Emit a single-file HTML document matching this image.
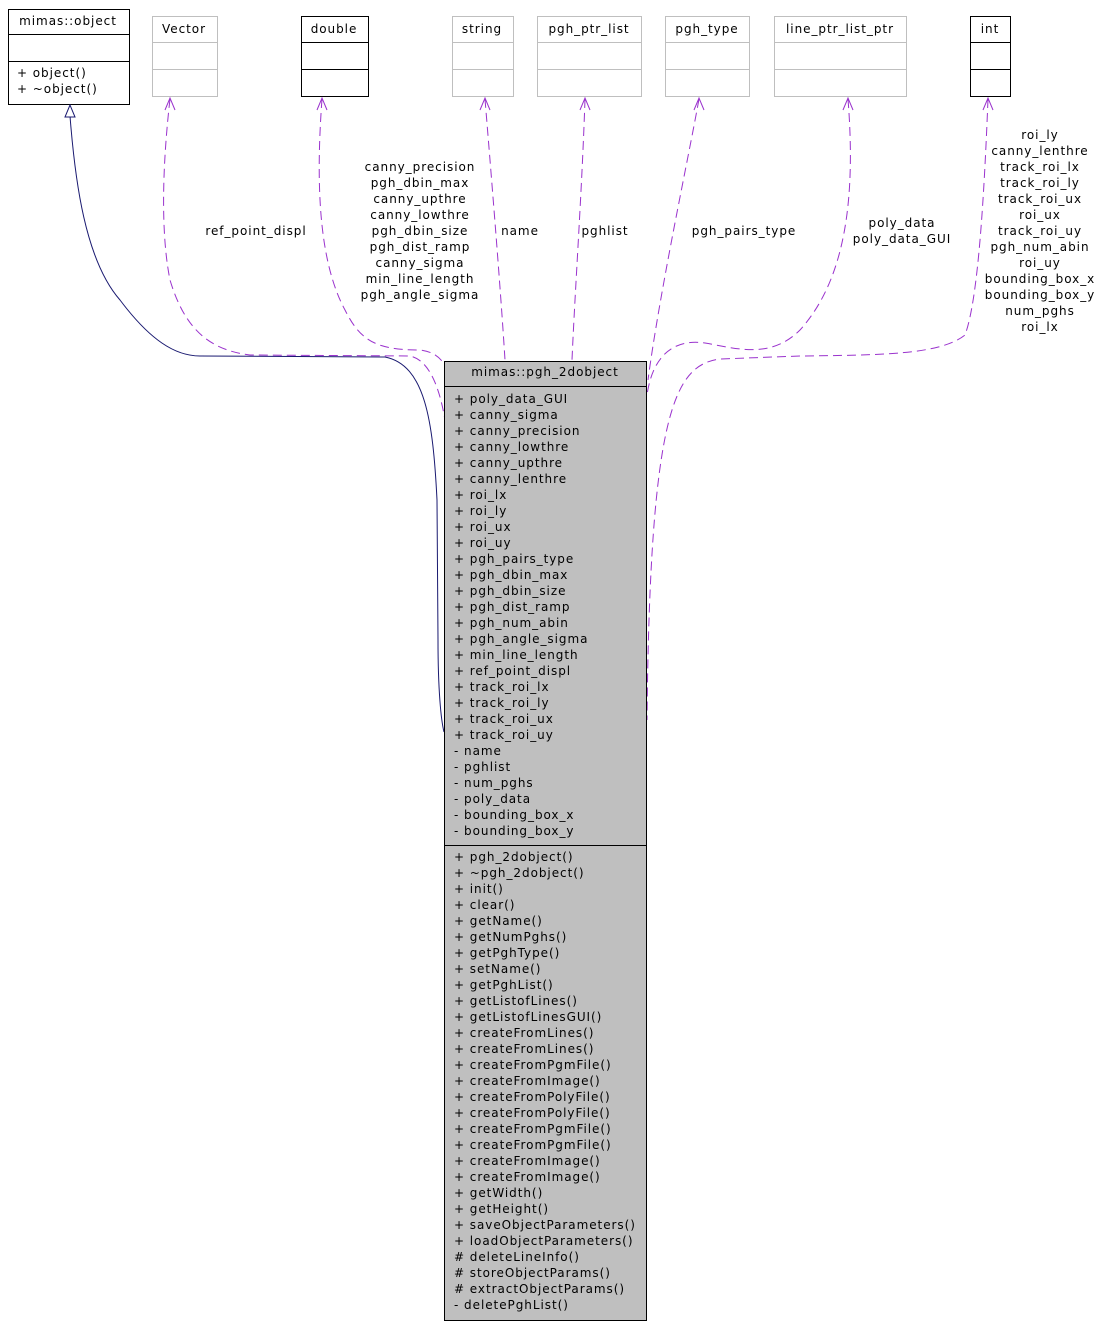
<!DOCTYPE html>
<html><head><meta charset="utf-8"><style>
html,body{margin:0;padding:0;background:#fff;}
svg text{font-family:"DejaVu Sans","Liberation Sans",sans-serif;font-size:12px;fill:#000;letter-spacing:0.95px;}
</style></head><body>
<svg width="1111" height="1327" viewBox="0 0 1111 1327" xmlns="http://www.w3.org/2000/svg">
<!-- mimas::object -->
<rect x="8.5" y="9.5" width="121" height="95" fill="#fff" stroke="#000"/>
<line x1="8" y1="34.5" x2="130" y2="34.5" stroke="#000"/>
<line x1="8" y1="61.5" x2="130" y2="61.5" stroke="#000"/>
<text x="68" y="25" text-anchor="middle">mimas::object</text>
<text x="17" y="77">+ object()</text>
<text x="17" y="93">+ ~object()</text>
<!-- gray boxes -->
<g fill="#fff" stroke="#bfbfbf">
<rect x="152.5" y="16.5" width="65" height="80"/><line x1="152" y1="42.5" x2="218" y2="42.5"/><line x1="152" y1="69.5" x2="218" y2="69.5"/>
<rect x="452.5" y="16.5" width="61" height="80"/><line x1="452" y1="42.5" x2="514" y2="42.5"/><line x1="452" y1="69.5" x2="514" y2="69.5"/>
<rect x="537.5" y="16.5" width="104" height="80"/><line x1="537" y1="42.5" x2="642" y2="42.5"/><line x1="537" y1="69.5" x2="642" y2="69.5"/>
<rect x="665.5" y="16.5" width="84" height="80"/><line x1="665" y1="42.5" x2="750" y2="42.5"/><line x1="665" y1="69.5" x2="750" y2="69.5"/>
<rect x="774.5" y="16.5" width="132" height="80"/><line x1="774" y1="42.5" x2="907" y2="42.5"/><line x1="774" y1="69.5" x2="907" y2="69.5"/>
</g>
<g fill="#fff" stroke="#000">
<rect x="301.5" y="16.5" width="67" height="80"/><line x1="301" y1="42.5" x2="369" y2="42.5"/><line x1="301" y1="69.5" x2="369" y2="69.5"/>
<rect x="970.5" y="16.5" width="40" height="80"/><line x1="970" y1="42.5" x2="1011" y2="42.5"/><line x1="970" y1="69.5" x2="1011" y2="69.5"/>
</g>
<text x="184" y="33" text-anchor="middle">Vector</text>
<text x="334" y="33" text-anchor="middle">double</text>
<text x="482" y="33" text-anchor="middle">string</text>
<text x="589" y="33" text-anchor="middle">pgh_ptr_list</text>
<text x="707" y="33" text-anchor="middle">pgh_type</text>
<text x="840" y="33" text-anchor="middle">line_ptr_list_ptr</text>
<text x="990" y="33" text-anchor="middle">int</text>

<!-- inheritance -->
<path d="M70,116 C75,180 85,260 120,300 C150,340 175,356 200,356 L385,357 C425,365 433,420 437,500 L438,640 C438,690 441,720 444,732" fill="none" stroke="#191970" stroke-width="1"/>
<polygon points="70,105 65,117 75,117" fill="#fff" stroke="#191970"/>

<!-- dependencies -->
<g fill="none" stroke="#9a32cd" stroke-width="1" stroke-dasharray="9,5">
<path d="M170,99 C163,160 160,230 170,280 C185,330 210,350 250,355 L410,356 C430,360 440,390 445,420"/>
<path d="M322,99 C316,180 318,260 345,310 C360,340 375,350 420,350 C435,352 440,358 445,365"/>
<path d="M485,99 C490,160 500,280 505,360"/>
<path d="M585,99 C582,190 575,290 572,360"/>
<path d="M699,99 C688,160 660,290 648,380"/>
<path d="M848,99 C856,200 845,280 800,330 C770,360 735,348 705,343 C670,338 652,360 647,395"/>
<path d="M988,99 C984,200 978,300 965,335 C940,355 880,355 800,356 L720,359 C675,365 650,410 647,720"/>
</g>
<g fill="none" stroke="#9a32cd" stroke-width="1">
<path d="M165,110 L170,98 L175,110"/>
<path d="M317,110 L322,98 L327,110"/>
<path d="M480,110 L485,98 L490,110"/>
<path d="M580,110 L585,98 L590,110"/>
<path d="M694,110 L699,98 L704,110"/>
<path d="M843,110 L848,98 L853,110"/>
<path d="M983,110 L988,98 L993,110"/>
</g>

<!-- edge labels -->
<g text-anchor="middle">
<text x="256" y="235">ref_point_displ</text>
<text x="420" y="171">canny_precision</text>
<text x="420" y="187">pgh_dbin_max</text>
<text x="420" y="203">canny_upthre</text>
<text x="420" y="219">canny_lowthre</text>
<text x="420" y="235">pgh_dbin_size</text>
<text x="420" y="251">pgh_dist_ramp</text>
<text x="420" y="267">canny_sigma</text>
<text x="420" y="283">min_line_length</text>
<text x="420" y="299">pgh_angle_sigma</text>
<text x="520" y="235">name</text>
<text x="605" y="235">pghlist</text>
<text x="744" y="235">pgh_pairs_type</text>
<text x="902" y="227">poly_data</text>
<text x="902" y="243">poly_data_GUI</text>
<text x="1040" y="139">roi_ly</text>
<text x="1040" y="155">canny_lenthre</text>
<text x="1040" y="171">track_roi_lx</text>
<text x="1040" y="187">track_roi_ly</text>
<text x="1040" y="203">track_roi_ux</text>
<text x="1040" y="219">roi_ux</text>
<text x="1040" y="235">track_roi_uy</text>
<text x="1040" y="251">pgh_num_abin</text>
<text x="1040" y="267">roi_uy</text>
<text x="1040" y="283">bounding_box_x</text>
<text x="1040" y="299">bounding_box_y</text>
<text x="1040" y="315">num_pghs</text>
<text x="1040" y="331">roi_lx</text>
</g>

<!-- main box -->
<rect x="444.5" y="361.5" width="202" height="959" fill="#bfbfbf" stroke="#000"/>
<line x1="444" y1="386.5" x2="647" y2="386.5" stroke="#000"/>
<line x1="444" y1="845.5" x2="647" y2="845.5" stroke="#000"/>
<text x="545" y="376" text-anchor="middle">mimas::pgh_2dobject</text>
<g>
<text x="454" y="403">+ poly_data_GUI</text>
<text x="454" y="419">+ canny_sigma</text>
<text x="454" y="435">+ canny_precision</text>
<text x="454" y="451">+ canny_lowthre</text>
<text x="454" y="467">+ canny_upthre</text>
<text x="454" y="483">+ canny_lenthre</text>
<text x="454" y="499">+ roi_lx</text>
<text x="454" y="515">+ roi_ly</text>
<text x="454" y="531">+ roi_ux</text>
<text x="454" y="547">+ roi_uy</text>
<text x="454" y="563">+ pgh_pairs_type</text>
<text x="454" y="579">+ pgh_dbin_max</text>
<text x="454" y="595">+ pgh_dbin_size</text>
<text x="454" y="611">+ pgh_dist_ramp</text>
<text x="454" y="627">+ pgh_num_abin</text>
<text x="454" y="643">+ pgh_angle_sigma</text>
<text x="454" y="659">+ min_line_length</text>
<text x="454" y="675">+ ref_point_displ</text>
<text x="454" y="691">+ track_roi_lx</text>
<text x="454" y="707">+ track_roi_ly</text>
<text x="454" y="723">+ track_roi_ux</text>
<text x="454" y="739">+ track_roi_uy</text>
<text x="454" y="755">- name</text>
<text x="454" y="771">- pghlist</text>
<text x="454" y="787">- num_pghs</text>
<text x="454" y="803">- poly_data</text>
<text x="454" y="819">- bounding_box_x</text>
<text x="454" y="835">- bounding_box_y</text>
<text x="454" y="861">+ pgh_2dobject()</text>
<text x="454" y="877">+ ~pgh_2dobject()</text>
<text x="454" y="893">+ init()</text>
<text x="454" y="909">+ clear()</text>
<text x="454" y="925">+ getName()</text>
<text x="454" y="941">+ getNumPghs()</text>
<text x="454" y="957">+ getPghType()</text>
<text x="454" y="973">+ setName()</text>
<text x="454" y="989">+ getPghList()</text>
<text x="454" y="1005">+ getListofLines()</text>
<text x="454" y="1021">+ getListofLinesGUI()</text>
<text x="454" y="1037">+ createFromLines()</text>
<text x="454" y="1053">+ createFromLines()</text>
<text x="454" y="1069">+ createFromPgmFile()</text>
<text x="454" y="1085">+ createFromImage()</text>
<text x="454" y="1101">+ createFromPolyFile()</text>
<text x="454" y="1117">+ createFromPolyFile()</text>
<text x="454" y="1133">+ createFromPgmFile()</text>
<text x="454" y="1149">+ createFromPgmFile()</text>
<text x="454" y="1165">+ createFromImage()</text>
<text x="454" y="1181">+ createFromImage()</text>
<text x="454" y="1197">+ getWidth()</text>
<text x="454" y="1213">+ getHeight()</text>
<text x="454" y="1229">+ saveObjectParameters()</text>
<text x="454" y="1245">+ loadObjectParameters()</text>
<text x="454" y="1261"># deleteLineInfo()</text>
<text x="454" y="1277"># storeObjectParams()</text>
<text x="454" y="1293"># extractObjectParams()</text>
<text x="454" y="1309">- deletePghList()</text>
</g>
</svg>
</body></html>
